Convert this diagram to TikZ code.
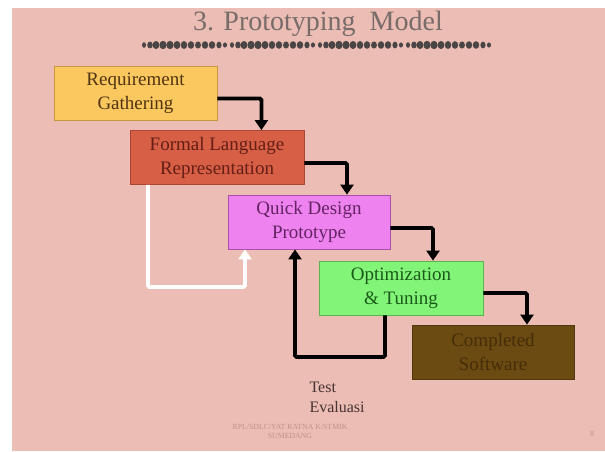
\documentclass[tikz,border=0pt]{standalone}
\usepackage{fontspec}
\setmainfont{Liberation Serif}
\usetikzlibrary{arrows.meta}

\definecolor{slidebg}{RGB}{236,189,180}
\definecolor{titlegray}{RGB}{120,108,106}
\definecolor{orngray}{RGB}{75,70,70}
\definecolor{reqfill}{RGB}{250,200,95}
\definecolor{reqline}{RGB}{200,150,60}
\definecolor{reqtext}{RGB}{80,52,18}
\definecolor{fmlfill}{RGB}{215,95,70}
\definecolor{fmlline}{RGB}{170,70,50}
\definecolor{fmltext}{RGB}{100,30,22}
\definecolor{qdpfill}{RGB}{238,130,238}
\definecolor{qdpline}{RGB}{170,80,170}
\definecolor{qdptext}{RGB}{100,35,100}
\definecolor{optfill}{RGB}{130,245,120}
\definecolor{optline}{RGB}{90,180,80}
\definecolor{opttext}{RGB}{25,90,25}
\definecolor{cmpfill}{RGB}{108,75,18}
\definecolor{cmpline}{RGB}{80,55,15}
\definecolor{cmptext}{RGB}{70,45,10}
\definecolor{notetext}{RGB}{70,50,50}
\definecolor{foottext}{RGB}{192,146,138}

\tikzset{
  stage/.style={rectangle, line width=0.8pt, minimum width=#1, minimum height=54pt,
    align=center, inner sep=0pt, font=\fontsize{19}{24}\selectfont},
  flow/.style={line width=3.8pt, draw=black, rounded corners=1.5pt,
    -{Triangle[width=13pt,length=10pt]}},
  backflow/.style={flow, draw=white},
  note/.style={align=left, anchor=north west, text=notetext,
    font=\fontsize{16}{20}\selectfont},
}

\begin{document}
\begin{tikzpicture}[x=1pt,y=-1pt]
  % slide background
  \useasboundingbox (0,0) rectangle (605,451);
  \fill[white] (0,0) rectangle (605,451);
  \fill[slidebg] (12,8) rectangle (605,451);

  % title and ornament rule
  \node[text=titlegray, font=\fontsize{28}{32}\selectfont] (title) at (318,24) {3. Prototyping\ \ Model};
  \foreach \g in {140,228,316,404} {
    \foreach \i/\r/\h in {0/2.0/2.8,6/2.8/3.4,12/3.4/4.0,19/3.6/4.2,26/3.6/4.2,33/3.4/4.0,40/3.2/4.0,47/3.2/3.8,54/3.0/3.6,61/3.2/3.8,68/3.2/3.8,75/2.6/3.4,81/2.0/2.6} {
      \fill[orngray] (\g+4+\i,45) ellipse ({\r} and {\h});
    }
  }

  % stages
  \node[stage=163pt, fill=reqfill, draw=reqline, text=reqtext] (req) at (135.5,93.5) {Requirement\\Gathering};
  \node[stage=174pt, fill=fmlfill, draw=fmlline, text=fmltext] (fml) at (217,157.5) {Formal Language\\Representation};
  \node[stage=162pt, fill=qdpfill, draw=qdpline, text=qdptext] (qdp) at (309,222) {Quick Design\\Prototype};
  \node[stage=164pt, fill=optfill, draw=optline, text=opttext] (opt) at (401,288) {Optimization\\\&\ Tuning};
  \node[stage=162pt, fill=cmpfill, draw=cmpline, text=cmptext] (cmp) at (493,352) {Completed\\Software};

  % forward flow
  \draw[flow] ([yshift=-5pt]req.east) -| ([xshift=44pt]req.east |- fml.north);
  \draw[flow] ([yshift=-5.5pt]fml.east) -| ([xshift=38pt]qdp.north);
  \draw[flow] ([yshift=-6pt]qdp.east) -| ([xshift=32pt]opt.north);
  \draw[flow] ([yshift=-5pt]opt.east) -| ([xshift=34pt]cmp.north);

  % test / evaluation loop back to the prototype
  \coordinate (fb) at (295,357);
  \draw[flow] ([xshift=-16pt]opt.south) |- (fb) -- (fb |- qdp.south);

  % refinement path from the formal representation
  \coordinate (wb) at (148,287);
  \draw[backflow] (fml.south -| wb) -- (wb) -| ([xshift=-64pt]qdp.south);

  % labels
  \node[note] (test) at (306,378) {Test\\Evaluasi};
  \node[text=foottext, align=center, font=\fontsize{7.8}{9}\selectfont] (foot) at (290,431)
    {RPL/SDLC/YAT RATNA K/STMIK\\SUMEDANG};
  \node[text=foottext, font=\fontsize{8}{9}\selectfont] (page) at (592,434) {8};
\end{tikzpicture}
\end{document}
